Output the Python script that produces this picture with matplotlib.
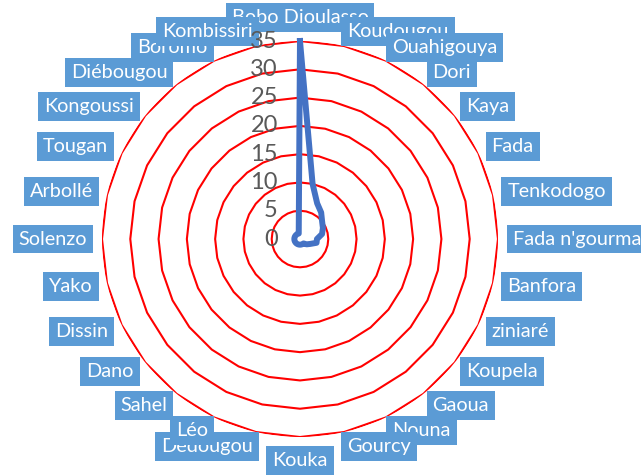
import numpy as np
import matplotlib.pyplot as plt

# villes dans l'ordre du graphique radar (sens horaire depuis le haut)
cities = ["Bobo Dioulasso", "Koudougou", "Ouahigouya", "Dori", "Kaya", "Fada",
          "Tenkodogo", "Fada n'gourma", "Banfora", "ziniaré", "Koupela", "Gaoua",
          "Nouna", "Gourcy", "Kouka", "Dédougou", "Léo", "Sahel", "Dano", "Dissin",
          "Yako", "Solenzo", "Arbollé", "Tougan", "Kongoussi", "Diébougou",
          "Boromo", "Kombissiri"]
values = [35, 10, 7, 6, 5, 4.5, 4, 3, 3, 2, 1.5, 1, 1, 1, 1, 1, 1, 1, 1, 1,
          1, 1, 1, 1, 1, 1, 1, 1]
ticks = [0, 5, 10, 15, 20, 25, 30, 35]

plt.rcParams['font.family'] = ['Lato', 'DejaVu Sans']

n = len(cities)
theta = np.arange(n) * 2 * np.pi / n
theta_c = np.append(theta, theta[0])

fig = plt.figure(figsize=(6.41, 4.76), dpi=100)
ax = fig.add_axes([0.1591, 0.0819, 0.6178, 0.8319], projection="polar")
ax.set_theta_zero_location("N")
ax.set_theta_direction(-1)
ax.set_ylim(0, ticks[-1])
ax.grid(False)
ax.spines["polar"].set_visible(False)
ax.set_xticks([])
ax.set_yticks([])

# quadrillage rouge (polygones comme Excel)
for lvl in ticks[1:]:
    ax.plot(theta_c, [lvl] * (n + 1), color="#FF0000", lw=1.5, zorder=1)

ax.plot(theta_c, np.append(values, values[0]), color="#4472C4", lw=4.3,
        solid_joinstyle="round", zorder=3, clip_on=False)

for t in ticks:
    ax.annotate(str(t), xy=(0, t), xytext=(-16, 0), textcoords="offset points",
                ha="right", va="center", fontsize=17, color="#595959",
                annotation_clip=False, zorder=50)

for i, (name, th) in enumerate(zip(cities, theta)):
    s, c = np.sin(th), np.cos(th)
    if abs(s) < 1e-6:
        ha, va = "center", ("bottom" if c > 0 else "top")
    else:
        ha, va = ("left" if s > 0 else "right"), "center"
    ax.text(th, 37.6, name, ha=ha, va=va, fontsize=14.3, color="white",
            bbox=dict(boxstyle="square,pad=0.3", fc="#5B9BD5", ec="none"),
            zorder=10 + i)

fig.savefig("out.png", dpi=100, facecolor="white")
